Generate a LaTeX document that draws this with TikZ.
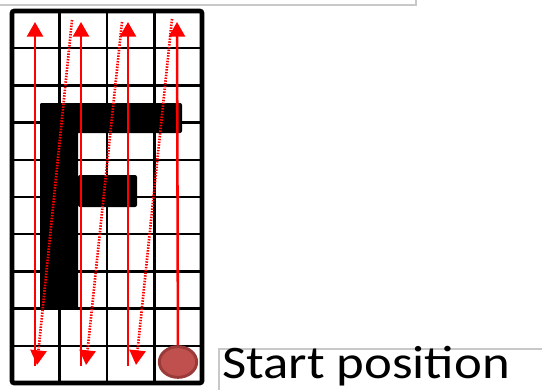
\documentclass[tikz,border=0pt]{standalone}
\usepackage{fontspec}
\setmainfont{Carlito}
\newfontfamily\lblfont[FakeStretch=1.13]{Carlito}
\usetikzlibrary{arrows.meta, positioning, calc, shapes.geometric}
\definecolor{scanred}{HTML}{FF0000}
\definecolor{startfill}{HTML}{C0504D}
\definecolor{startedge}{HTML}{9A3B39}
\definecolor{boxgray}{HTML}{C8C8C8}
\tikzset{
  cellline/.style  = {black, line width=1.9pt},
  gridframe/.style = {black, line width=3.4pt, rounded corners=1.5pt},
  letterbar/.style = {fill=black, rounded corners=1.5pt},
  scanup/.style    = {scanred, line width=1.9pt,
                      -{Triangle[length=11pt, width=12pt]}},
  scanjump/.style  = {scanred, line width=2pt,
                      dash pattern=on 1.1pt off 1pt,
                      -{Triangle[length=11pt, width=12pt]}},
  startdot/.style  = {ellipse, draw=startedge, line width=2.2pt, fill=startfill,
                      minimum width=28pt, minimum height=23pt, inner sep=0pt},
  txtbox/.style    = {boxgray, line width=0.8pt},
}

\begin{document}
\begin{tikzpicture}[x=0.75pt, y=-0.75pt]
    \useasboundingbox (0,0) rectangle (542,390);

    % text box borders
    \draw[txtbox] (0,5) -- (416,5) -- (416,0);
    \draw[txtbox] (219,390) -- (219,349) -- (542,349);

    % raster grid
    \foreach \i in {1,...,3}
      \draw[cellline] ({12+47.5*\i},11) -- ({12+47.5*\i},383);
    \foreach \j in {1,...,9}
      \draw[cellline] (12,{11+37.2*\j}) -- (202,{11+37.2*\j});
    \draw[gridframe] (12,11) rectangle (202,383);

    % letter F
    \fill[letterbar] (40,103) rectangle (78,309);
    \fill[letterbar] (40,103) rectangle (182,133);
    \fill[letterbar] (78,175) rectangle (137,207);

    % scan path
    \node[startdot] (start) at (178,362) {};
    \node[anchor=base west, font=\lblfont\fontsize{35}{40}\selectfont, inner sep=0pt]
      (lbl) at (222,378) {Start position};

    \coordinate (b1) at (35,366);  \coordinate (t1) at (35,22);
    \coordinate (b2) at (81,366);  \coordinate (t2) at (81,22);
    \coordinate (b3) at (128,366); \coordinate (t3) at (128,22);
    \coordinate (t4) at (177,22);
    \coordinate (j4) at (172,19);  \coordinate (e3) at (136,365);
    \coordinate (j3) at (122,22);  \coordinate (e2) at (86,365);
    \coordinate (j2) at (72,20);   \coordinate (e1) at (37,365);

    \draw[scanup] (start) -- (t4);
    \draw[scanjump] (j4) -- (e3);
    \draw[scanup] (b3) -- (t3);
    \draw[scanjump] (j3) -- (e2);
    \draw[scanup] (b2) -- (t2);
    \draw[scanjump] (j2) -- (e1);
    \draw[scanup] (b1) -- (t1);
  \end{tikzpicture}
\end{document}
